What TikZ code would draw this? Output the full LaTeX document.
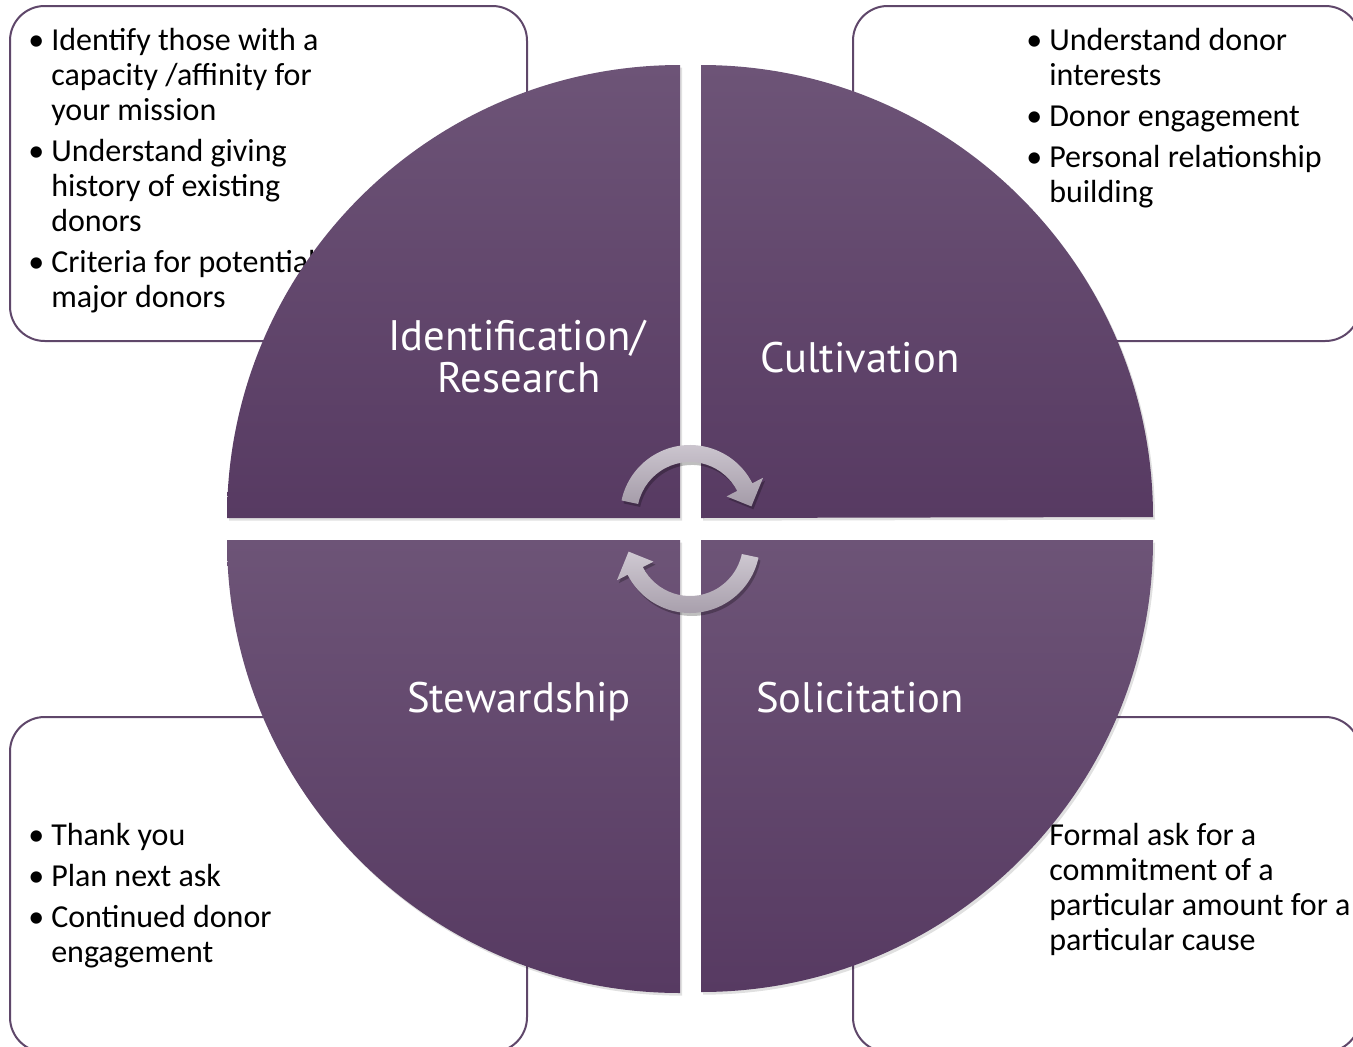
\documentclass[tikz,border=0pt]{standalone}
\usepackage{fontspec}
\setmainfont{Carlito}
\newfontfamily\stagefont{PT Sans}
\usetikzlibrary{calc}
\begin{document}
\begin{tikzpicture}[x=0.75pt,y=-0.75pt]
\definecolor{frame}{HTML}{5F476A}
\definecolor{qtop}{HTML}{6D5477}
\definecolor{qbot}{HTML}{573A62}
\definecolor{atop}{HTML}{CFC9D2}
\definecolor{abot}{HTML}{A49BA8}
\tikzset{
  infobox/.style={draw=frame, line width=1.5pt, fill=white, rounded corners=26pt},
  quad/.style={top color=qtop, bottom color=qbot, draw=none,
    preaction={fill=black, opacity=0.12, transform canvas={xshift=1.5pt, yshift=-2pt}}},
  txtline/.style={anchor=base west, inner sep=0pt, font=\fontsize{24}{28}\selectfont},
  stage/.style={anchor=base, inner sep=0pt, text=white, font=\stagefont\fontsize{32}{38}\selectfont},
  cycarrow/.style={top color=atop, bottom color=abot, draw=none,
    preaction={fill=black, opacity=0.25, transform canvas={xshift=1.5pt, yshift=-2.2pt}}},
}
\useasboundingbox (0,0) rectangle (1353,1046);

% detail boxes
\draw[infobox] (10,6) rectangle (527,341);
\draw[infobox] (853,6) rectangle (1360,341);
\draw[infobox] (10,717) rectangle (527,1052);
\draw[infobox] (853,717) rectangle (1360,1052);

% top-left box text
\foreach \y/\t [count=\i] in {50/{Identify those with a}, 85/{capacity /affinity for}, 120/{your mission},
    161/{Understand giving}, 196/{history of existing}, 231/{donors},
    272/{Criteria for potential}, 307/{major donors}}
  \node[txtline] (tl\i) at (51,\y) {\t};
\foreach \y [count=\i] in {50,161,272}
  \node[txtline] (tlb\i) at (28,\y) {\textbullet};

% top-right box text
\foreach \y/\t [count=\i] in {50/{Understand donor}, 85/{interests}, 126/{Donor engagement},
    167/{Personal relationship}, 202/{building}}
  \node[txtline] (tr\i) at (1049,\y) {\t};
\foreach \y [count=\i] in {50,126,167}
  \node[txtline] (trb\i) at (1026,\y) {\textbullet};

% bottom-left box text
\foreach \y/\t [count=\i] in {845/{Thank you}, 886/{Plan next ask}, 927/{Continued donor}, 962/{engagement}}
  \node[txtline] (bl\i) at (51,\y) {\t};
\foreach \y [count=\i] in {845,886,927}
  \node[txtline] (blb\i) at (28,\y) {\textbullet};

% bottom-right box text
\foreach \y/\t [count=\i] in {845/{Formal ask for a}, 880/{commitment of a}, 915/{particular amount for a}, 950/{particular cause}}
  \node[txtline] (br\i) at (1049,\y) {\t};

% the four quarter discs
\path[quad] (680,518) -- (227,518) arc[start angle=180, end angle=270, radius=453] -- cycle;
\path[quad] (701,518) -- (701,65) arc[start angle=270, end angle=360, radius=452] -- cycle;
\path[quad] (680,540) -- (680,993) arc[start angle=90, end angle=180, radius=453] -- cycle;
\path[quad] (701,540) -- (1153,540) arc[start angle=0, end angle=90, radius=452] -- cycle;

% stage names
\node[stage] (idA) at (517,350) {Identification/};
\node[stage] (idB) at (519,392) {Research};
\node[stage] (cult) at (860,372) {Cultivation};
\node[stage] (stew) at (519,712) {Stewardship};
\node[stage] (soli) at (860,712) {Solicitation};

% circular arrows in the middle
\coordinate (c1) at (690,515);
\coordinate (c2) at (690,543);
\path[cycarrow] ($(c1)+(192:70)$) arc[start angle=192, end angle=333, radius=70]
  -- ($(c1)+(333:82)$) -- ($(c1)+(352:62)$) -- ($(c1)+(333:41)$) -- ($(c1)+(333:53)$)
  arc[start angle=333, end angle=192, radius=53] -- cycle;
\path[cycarrow] ($(c2)+(12:70)$) arc[start angle=12, end angle=153, radius=70]
  -- ($(c2)+(153:82)$) -- ($(c2)+(172:62)$) -- ($(c2)+(153:41)$) -- ($(c2)+(153:53)$)
  arc[start angle=153, end angle=12, radius=53] -- cycle;
\end{tikzpicture}
\end{document}
